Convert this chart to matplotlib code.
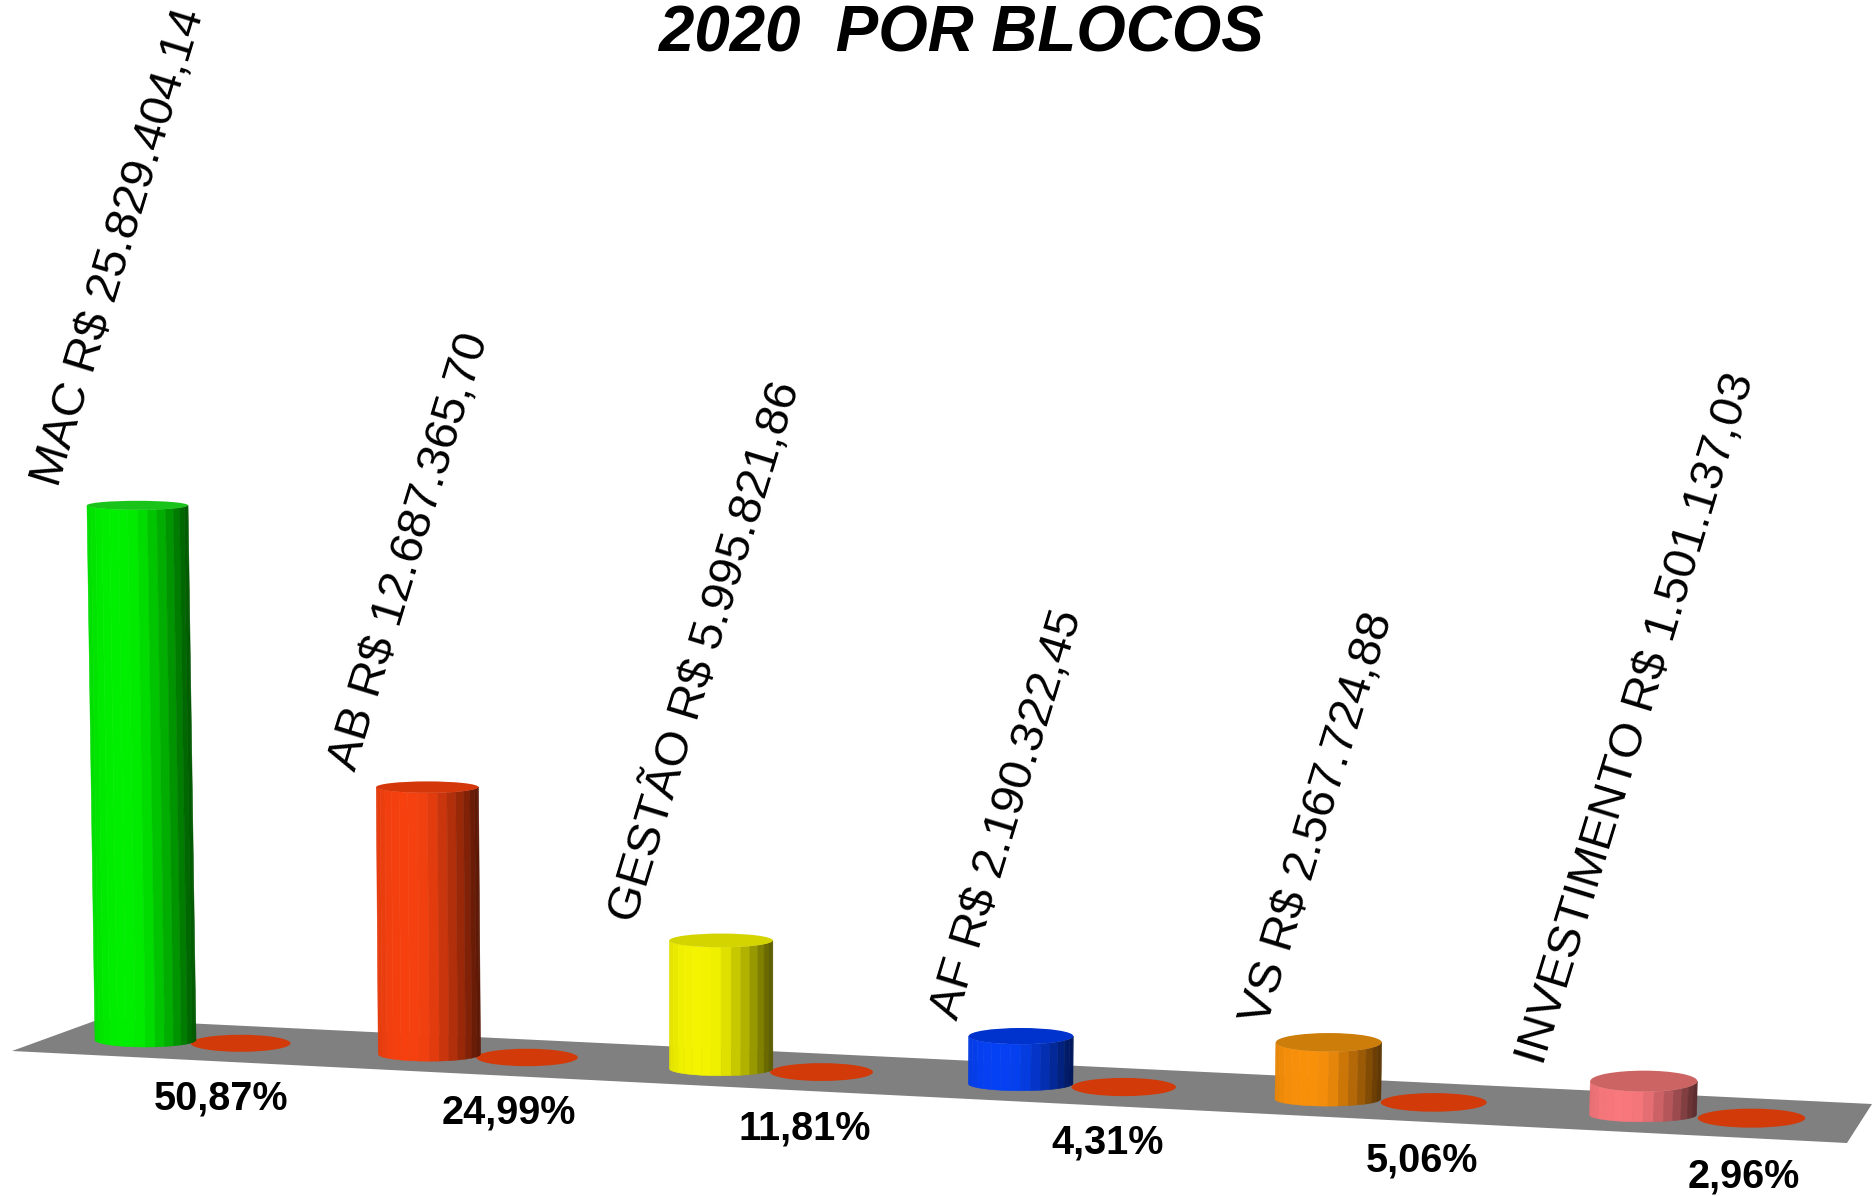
import numpy as np
import matplotlib
matplotlib.use("Agg")
import matplotlib.pyplot as plt
from matplotlib.patches import Ellipse, Polygon

plt.rcParams["font.family"] = ["Liberation Sans", "DejaVu Sans"]

blocos = ["MAC", "AB", "GESTÃO", "AF", "VS", "INVESTIMENTO"]
valores = [25829404.14, 12687365.70, 5995821.86, 2190322.45, 2567724.88, 1501137.03]
percentuais = ["50,87%", "24,99%", "11,81%", "4,31%", "5,06%", "2,96%"]

cores = [(0, 240, 0), (247, 65, 15), (245, 245, 0), (5, 65, 245), (250, 145, 10), (250, 120, 125)]
cores_topo = [(25, 195, 25), (212, 55, 10), (212, 212, 0), (0, 50, 205), (205, 125, 10), (205, 100, 100)]
cor_sombra = "#D23A0A"
cor_piso = "#808080"

# where the labels sit, in picture pixels
centro_rotulos = [(119, 247), (410, 552), (705, 651), (1008, 814), (1318, 818), (1637, 718)]
centro_pct = [(221, 1099), (509, 1112), (805, 1128), (1108, 1143), (1422, 1160), (1744, 1176)]


def rgb(c, f=1.0):
    return (c[0] / 255 * f, c[1] / 255 * f, c[2] / 255 * f)


def brl(v):
    return f"{v:,.2f}".replace(",", "#").replace(".", ",").replace("#", ".")


fig = plt.figure(figsize=(18.72, 11.96), dpi=100)
ax = fig.add_axes([0, 0, 1, 1])
ax.set_xlim(0, 1872)
ax.set_ylim(1196, 0)
ax.axis("off")

# floor
ax.add_patch(Polygon([(12, 1051), (100, 1019), (1872, 1104), (1847, 1143)],
                     closed=True, color=cor_piso, lw=0, zorder=1))

luz_u = [0, 0.12, 0.3, 0.5, 0.6, 0.72, 0.85, 0.95, 1]
luz_f = [0.92, 0.98, 1, 0.97, 0.86, 0.74, 0.58, 0.42, 0.36]

for i, valor in enumerate(valores):
    # fake perspective: things get a bit bigger to the right
    cx = 145.5 + 280 * i + 3.9 * i ** 2
    base_y = 1047 + 0.05 * (cx - 146)
    r = (101 + 1.2 * i) / 2
    k = 20.7 + 0.35 * i
    h = valor / 1e6 * k
    bb = 7
    bt = 4.5 + 1.2 * i
    rim_b = base_y - bb
    rim_t = rim_b - h
    cx_t = cx + h * (cx - 720) * 2.6e-5

    # shadow
    ax.add_patch(Ellipse((cx + 95 + 2.7 * i, base_y - 3.7), 100 + 1.5 * i, 17 + 0.4 * i,
                         color=cor_sombra, lw=0, zorder=2))

    # side of the cylinder, one strip per facet
    phi = np.linspace(np.pi, 0, 17)
    for a, b in zip(phi[:-1], phi[1:]):
        u = (np.cos((a + b) / 2) + 1) / 2
        f = np.interp(u, luz_u, luz_f)
        pts = [(cx + r * np.cos(a), rim_b + bb * np.sin(a)),
               (cx + r * np.cos(b), rim_b + bb * np.sin(b)),
               (cx_t + r * np.cos(b), rim_t + bt * np.sin(b)),
               (cx_t + r * np.cos(a), rim_t + bt * np.sin(a))]
        ax.add_patch(Polygon(pts, closed=True, facecolor=rgb(cores[i], f),
                             edgecolor=rgb(cores[i], f), lw=0.4, zorder=3))

    # top
    ax.add_patch(Ellipse((cx_t, rim_t), 2 * r, 2 * bt, color=rgb(cores_topo[i]), lw=0, zorder=4))

    ax.text(centro_rotulos[i][0], centro_rotulos[i][1], f"{blocos[i]} R$ {brl(valor)}",
            fontsize=34.2, rotation=73, ha="center", va="center",
            color="black", zorder=5)
    ax.text(centro_pct[i][0], centro_pct[i][1], percentuais[i], fontsize=28.5, fontweight="bold",
            ha="center", va="center", color="black", zorder=5)

ax.text(961, 35, "2020  POR BLOCOS", fontsize=45.8, fontweight="bold", style="italic",
        ha="center", va="center", color="black", zorder=5)

fig.savefig("out.png", dpi=100, facecolor="white")
